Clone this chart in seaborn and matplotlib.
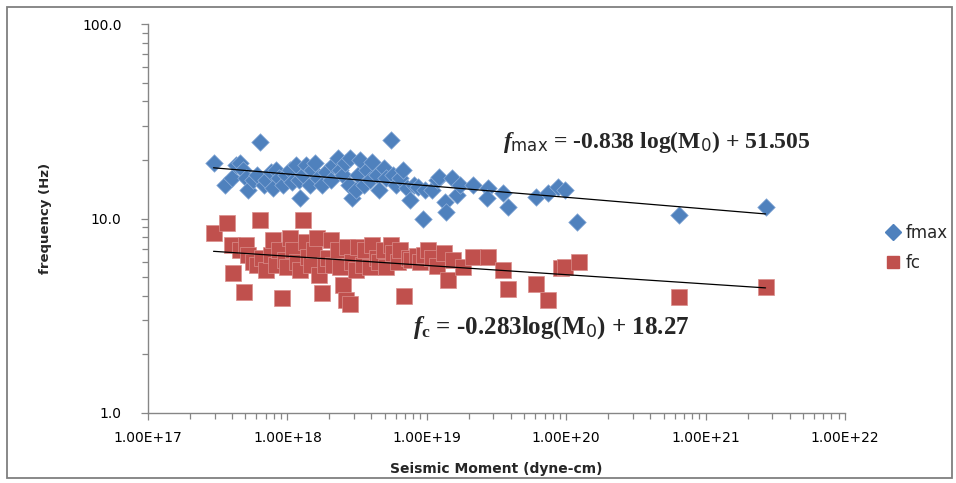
import numpy as np
import pandas as pd
import matplotlib
matplotlib.use("Agg")
import matplotlib.pyplot as plt
import seaborn as sns
from matplotlib.lines import Line2D
from matplotlib.patches import Rectangle
from matplotlib.ticker import LogLocator, FuncFormatter, NullFormatter, FixedLocator

# ---------------- data (log10 of seismic moment, frequency in Hz) ----------------
fmax_logM0 = [17.47, 17.55, 17.60, 17.63, 17.66, 17.68, 17.70, 17.72, 17.75, 17.78,
              17.80, 17.83, 17.85, 17.88, 17.90, 17.92, 17.94, 17.97, 17.99, 18.02,
              18.03, 18.06, 18.08, 18.09, 18.11, 18.13, 18.16, 18.18, 18.20, 18.22,
              18.25, 18.28, 18.31, 18.33, 18.36, 18.38, 18.40, 18.41, 18.44, 18.45,
              18.46, 18.49, 18.51, 18.52, 18.55, 18.57, 18.59, 18.61, 18.64, 18.66,
              18.69, 18.71, 18.74, 18.76, 18.78, 18.81, 18.83, 18.86, 18.88, 18.91,
              18.94, 18.97, 18.99, 19.04, 19.07, 19.09, 19.13, 19.14, 19.18, 19.22,
              19.24, 19.33, 19.44, 19.43, 19.55, 19.58, 19.78, 19.87, 19.94, 19.99,
              20.08, 20.81, 21.43]
fmax_hz = [19.3, 14.9, 16.1, 18.8, 19.3, 17.8, 16.1, 14.0, 15.8, 16.7,
           24.7, 14.9, 15.8, 17.3, 14.3, 17.8, 16.1, 14.9, 16.7, 17.8,
           15.4, 18.8, 15.8, 12.7, 16.7, 18.8, 14.9, 17.8, 19.3, 16.1,
           14.9, 17.3, 15.8, 18.8, 20.5, 17.8, 16.7, 19.3, 14.9, 20.5,
           12.7, 14.0, 16.7, 20.0, 14.9, 17.8, 15.8, 19.5, 16.7, 14.0,
           18.2, 16.1, 25.3, 16.7, 14.9, 16.1, 17.8, 14.3, 12.45, 14.9,
           14.5, 10.0, 14.0, 14.0, 15.8, 16.3, 12.2, 10.8, 16.1, 13.2,
           14.9, 14.9, 14.3, 12.7, 13.5, 11.5, 12.9, 13.5, 14.5, 14.0,
           9.6, 10.4, 11.5]

fc_logM0 = [17.47, 17.57, 17.60, 17.61, 17.66, 17.69, 17.70, 17.72, 17.75, 17.78,
            17.80, 17.82, 17.85, 17.88, 17.90, 17.92, 17.94, 17.96, 17.98, 18.00,
            18.02, 18.04, 18.07, 18.09, 18.11, 18.13, 18.15, 18.17, 18.19, 18.21,
            18.23, 18.25, 18.27, 18.29, 18.31, 18.33, 18.36, 18.38, 18.40, 18.42,
            18.43, 18.45, 18.46, 18.49, 18.51, 18.54, 18.56, 18.59, 18.61, 18.64,
            18.66, 18.69, 18.71, 18.74, 18.76, 18.79, 18.81, 18.84, 18.87, 18.89,
            18.93, 18.95, 18.98, 19.01, 19.04, 19.07, 19.12, 19.15, 19.19, 19.26,
            19.33, 19.44, 19.55, 19.58, 19.78, 19.87, 19.96, 19.99, 20.09, 20.81,
            21.43]
fc_hz = [8.4, 9.5, 7.3, 5.25, 6.9, 4.2, 7.3, 6.5, 6.0, 5.8,
         9.8, 6.3, 5.45, 6.5, 7.75, 5.8, 6.9, 3.9, 6.1, 5.6,
         7.9, 6.9, 6.0, 5.45, 9.8, 7.6, 6.35, 5.8, 6.9, 7.9,
         5.1, 4.15, 5.8, 6.25, 7.75, 5.8, 6.9, 5.6, 4.55, 3.8,
         7.15, 3.65, 6.0, 5.45, 7.15, 5.8, 6.9, 5.6, 7.3, 6.25,
         6.0, 6.9, 5.6, 7.3, 6.65, 6.0, 6.9, 4.0, 6.25, 6.1,
         6.4, 6.0, 6.5, 6.9, 6.25, 5.7, 6.65, 4.85, 6.1, 5.65,
         6.35, 6.35, 5.45, 4.35, 4.6, 3.8, 5.55, 5.65, 6.0, 3.95,
         4.45]

series_names = ["fmax", "fc"]
x_ticks = [1e17, 1e18, 1e19, 1e20, 1e21, 1e22]
y_ticks = [1.0, 10.0, 100.0]
x_label = "Seismic Moment (dyne-cm)"
y_label = "frequency (Hz)"
eq_fmax = r"$f_{\mathsf{max}}$ = -0.838 log(M$_{\mathsf{0}}$) + 51.505"
eq_fc = r"$f_{\mathrm{c}}$ = -0.283log(M$_{\mathsf{0}}$) + 18.27"

BLUE = "#4F81BD"
RED = "#C0504D"
GRAY = "#868686"

# ---------------- styling ----------------
sns.set_style("white")
plt.rcParams["font.family"] = ["DejaVu Sans"]
plt.rcParams["mathtext.fontset"] = "custom"
plt.rcParams["mathtext.it"] = "Liberation Serif:italic:bold"
plt.rcParams["mathtext.rm"] = "Liberation Serif:bold"
plt.rcParams["mathtext.bf"] = "Liberation Serif:bold"
plt.rcParams["mathtext.sf"] = "DejaVu Sans"

df = pd.concat([
    pd.DataFrame({"M0": 10 ** np.array(fmax_logM0), "f": fmax_hz, "series": series_names[0]}),
    pd.DataFrame({"M0": 10 ** np.array(fc_logM0), "f": fc_hz, "series": series_names[1]}),
], ignore_index=True)

fig = plt.figure(figsize=(9.56, 4.83), dpi=100)
ax = fig.add_axes([148 / 956, 1 - 413 / 483, 697 / 956, 389 / 483])

sns.scatterplot(data=df[df.series == "fmax"], x="M0", y="f", marker="D", s=80,
                color=BLUE, edgecolor="#8FB0DA", linewidth=0.5, ax=ax, legend=False, zorder=3)
sns.scatterplot(data=df[df.series == "fc"], x="M0", y="f", marker="s", s=125,
                color=RED, edgecolor="#DA8E8C", linewidth=0.5, ax=ax, legend=False, zorder=3)

# power trendlines (least squares in log-log space)
for name in series_names:
    sub = df[df.series == name]
    lx = np.log10(sub.M0.values)
    ly = np.log10(sub.f.values)
    b, a = np.polyfit(lx, ly, 1)
    xs = np.array([lx.min(), lx.max()])
    ax.plot(10 ** xs, 10 ** (a + b * xs), color="black", lw=0.9, zorder=4)

ax.set_xscale("log")
ax.set_yscale("log")
ax.set_xlim(x_ticks[0], x_ticks[-1])
ax.set_ylim(y_ticks[0], y_ticks[-1])
ax.xaxis.set_major_locator(FixedLocator(x_ticks))
ax.yaxis.set_major_locator(FixedLocator(y_ticks))
ax.xaxis.set_minor_locator(LogLocator(base=10, subs=np.arange(2, 10), numticks=100))
ax.yaxis.set_minor_locator(LogLocator(base=10, subs=np.arange(2, 10), numticks=100))
ax.xaxis.set_minor_formatter(NullFormatter())
ax.yaxis.set_minor_formatter(NullFormatter())
ax.xaxis.set_major_formatter(FuncFormatter(lambda v, p: f"{v:.2E}"))
ax.yaxis.set_major_formatter(FuncFormatter(lambda v, p: f"{v:.1f}"))

ax.tick_params(axis="both", which="both", direction="out", color=GRAY, width=0.9,
               labelsize=10, labelcolor="black", bottom=True, left=True)
ax.tick_params(axis="both", which="major", length=5)
ax.tick_params(axis="both", which="minor", length=4)
ax.tick_params(axis="y", which="major", pad=14)
ax.tick_params(axis="x", which="major", pad=8)

for side in ["top", "right"]:
    ax.spines[side].set_visible(False)
for side in ["left", "bottom"]:
    ax.spines[side].set_color(GRAY)
    ax.spines[side].set_linewidth(1.0)

ax.set_xlabel(x_label, fontsize=10, fontweight="bold", labelpad=12)
ax.set_ylabel(y_label, fontsize=9.5, fontweight="bold", labelpad=22)
ax.grid(False)

# equations
ax.text(0.510, 0.697, eq_fmax, transform=ax.transAxes, fontsize=17,
        fontfamily="Liberation Serif", fontweight="bold", va="center", ha="left")
ax.text(0.380, 0.2185, eq_fc, transform=ax.transAxes, fontsize=18,
        fontfamily="Liberation Serif", fontweight="bold", va="center", ha="left")

# legend
handles = [
    Line2D([], [], linestyle="none", marker="D", markersize=8, color=BLUE, label=series_names[0]),
    Line2D([], [], linestyle="none", marker="s", markersize=9, color=RED, label=series_names[1]),
]
fig.legend(handles=handles, loc="center left", bbox_to_anchor=(876 / 956, 1 - 248 / 483),
           frameon=False, fontsize=12, handlelength=1.0, handletextpad=0.3,
           labelspacing=0.7, borderpad=0)

# outer chart border
fig.patches.append(Rectangle((7 / 956, 5 / 483), 945 / 956, 471 / 483, transform=fig.transFigure,
                             fill=False, edgecolor="#7F7F7F", linewidth=1.3))

fig.savefig("out.png", dpi=100)
